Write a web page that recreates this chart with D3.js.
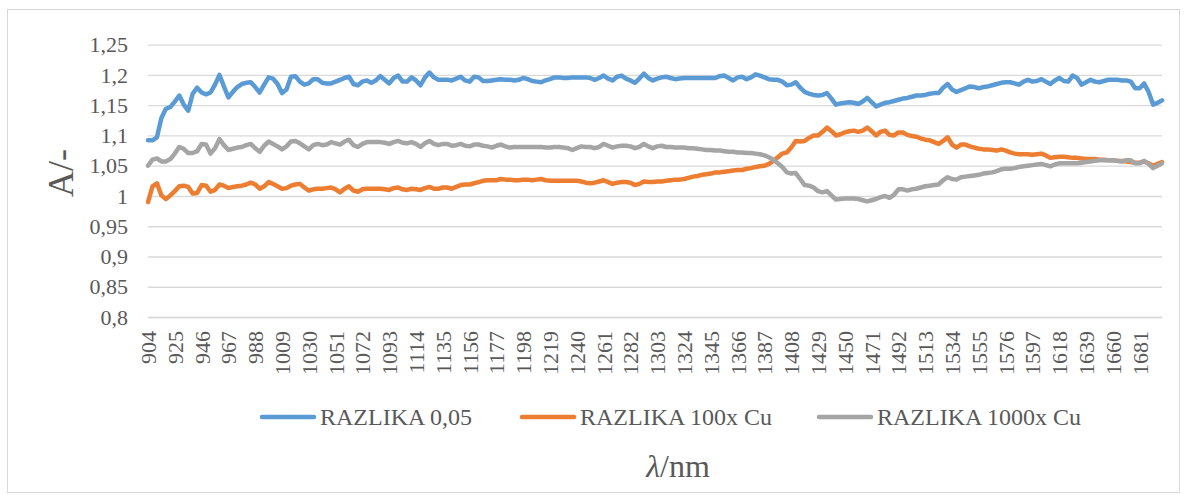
<!DOCTYPE html>
<html>
<head>
<meta charset="utf-8">
<script src="https://cdnjs.cloudflare.com/ajax/libs/d3/7.8.5/d3.min.js"></script>
<style>
html,body{margin:0;padding:0;background:#fff;}
svg{display:block;}
</style>
</head>
<body>
<svg id="chart" width="1187" height="495"></svg>
<script>
// ---- data ----
const wavelengths = d3.range(228).map(i => 904 + 3.5 * i); // nm, 3.5 nm step
const tickLabels = [904,925,946,967,988,1009,1030,1051,1072,1093,1114,1135,1156,1177,1198,1219,1240,1261,1282,1303,1324,1345,1366,1387,1408,1429,1450,1471,1492,1513,1534,1555,1576,1597,1618,1639,1660,1681];
const yTicks = [0.8,0.85,0.9,0.95,1,1.05,1.1,1.15,1.2,1.25];
const yTickLabels = ["0,8","0,85","0,9","0,95","1","1,05","1,1","1,15","1,2","1,25"];
const seriesNames = ["RAZLIKA 0,05","RAZLIKA 100x Cu","RAZLIKA 1000x Cu"];
const seriesColors = ["#5B9BD5","#ED7D31","#A5A5A5"];

const razlika005 = [
1.092,1.092,1.097,1.129,1.144,1.147,1.156,1.166,1.151,1.141,
1.169,1.179,1.171,1.168,1.171,1.184,1.2,1.181,1.163,1.172,
1.18,1.185,1.187,1.188,1.18,1.171,1.184,1.196,1.194,1.185,
1.17,1.176,1.197,1.198,1.189,1.184,1.186,1.193,1.193,1.187,
1.186,1.186,1.189,1.192,1.195,1.197,1.185,1.183,1.189,1.191,
1.187,1.191,1.198,1.192,1.186,1.195,1.199,1.189,1.189,1.196,
1.191,1.183,1.196,1.204,1.196,1.192,1.192,1.192,1.191,1.194,
1.197,1.191,1.189,1.197,1.196,1.19,1.19,1.191,1.192,1.193,
1.192,1.192,1.191,1.192,1.195,1.193,1.19,1.189,1.188,1.191,
1.193,1.196,1.196,1.195,1.195,1.196,1.196,1.196,1.196,1.195,
1.192,1.195,1.199,1.194,1.191,1.197,1.199,1.194,1.191,1.187,
1.194,1.202,1.195,1.191,1.194,1.196,1.197,1.195,1.193,1.194,
1.195,1.195,1.195,1.195,1.195,1.195,1.195,1.195,1.198,1.199,
1.195,1.191,1.196,1.197,1.193,1.196,1.201,1.199,1.196,1.193,
1.192,1.192,1.189,1.183,1.184,1.188,1.179,1.172,1.169,1.167,
1.166,1.167,1.17,1.161,1.151,1.153,1.154,1.155,1.154,1.152,
1.156,1.162,1.155,1.148,1.151,1.154,1.155,1.157,1.159,1.161,
1.162,1.164,1.166,1.166,1.167,1.169,1.17,1.17,1.179,1.185,
1.176,1.172,1.175,1.178,1.181,1.18,1.178,1.18,1.181,1.183,
1.185,1.187,1.188,1.188,1.186,1.184,1.189,1.192,1.189,1.19,
1.193,1.189,1.185,1.191,1.195,1.19,1.189,1.199,1.195,1.184,
1.188,1.192,1.189,1.188,1.19,1.192,1.192,1.192,1.191,1.191,
1.189,1.178,1.178,1.186,1.172,1.151,1.154,1.158];

const razlika100xCu = [
0.99,1.016,1.021,1.001,0.995,1.001,1.008,1.016,1.017,1.015,
1.004,1.005,1.018,1.017,1.007,1.01,1.019,1.017,1.013,1.015,
1.016,1.017,1.019,1.022,1.019,1.012,1.016,1.023,1.02,1.016,
1.012,1.013,1.017,1.019,1.02,1.014,1.009,1.011,1.012,1.012,
1.013,1.014,1.011,1.006,1.012,1.016,1.009,1.007,1.011,1.012,
1.012,1.012,1.012,1.011,1.01,1.013,1.014,1.011,1.01,1.012,
1.011,1.01,1.013,1.015,1.012,1.012,1.014,1.014,1.012,1.015,
1.018,1.019,1.019,1.021,1.023,1.025,1.026,1.026,1.026,1.028,
1.027,1.027,1.026,1.026,1.027,1.027,1.026,1.027,1.028,1.026,
1.025,1.025,1.025,1.025,1.025,1.025,1.025,1.024,1.022,1.021,
1.022,1.024,1.026,1.023,1.02,1.022,1.023,1.023,1.022,1.018,
1.02,1.024,1.023,1.023,1.024,1.024,1.025,1.026,1.027,1.027,
1.028,1.03,1.032,1.033,1.035,1.036,1.037,1.039,1.039,1.04,
1.041,1.042,1.043,1.043,1.045,1.046,1.048,1.049,1.05,1.053,
1.058,1.064,1.07,1.072,1.08,1.091,1.09,1.091,1.096,1.1,
1.1,1.106,1.113,1.107,1.1,1.102,1.105,1.107,1.108,1.106,
1.108,1.113,1.107,1.1,1.106,1.108,1.101,1.1,1.105,1.105,
1.101,1.099,1.098,1.095,1.093,1.092,1.089,1.086,1.091,1.097,
1.085,1.08,1.085,1.085,1.082,1.08,1.078,1.077,1.077,1.076,
1.075,1.077,1.075,1.072,1.07,1.069,1.069,1.069,1.068,1.069,
1.07,1.067,1.063,1.064,1.065,1.065,1.064,1.063,1.063,1.062,
1.061,1.061,1.061,1.06,1.06,1.059,1.059,1.058,1.058,1.057,
1.056,1.055,1.055,1.057,1.054,1.05,1.053,1.056];

const razlika1000xCu = [
1.05,1.06,1.062,1.057,1.057,1.061,1.07,1.081,1.078,1.071,
1.071,1.074,1.086,1.085,1.07,1.079,1.094,1.084,1.076,1.078,
1.08,1.081,1.084,1.086,1.079,1.073,1.083,1.09,1.086,1.082,
1.077,1.082,1.09,1.091,1.087,1.082,1.077,1.084,1.086,1.084,
1.085,1.089,1.087,1.085,1.09,1.093,1.084,1.081,1.086,1.089,
1.089,1.089,1.089,1.088,1.086,1.089,1.091,1.088,1.087,1.089,
1.086,1.081,1.087,1.091,1.086,1.084,1.086,1.086,1.083,1.084,
1.086,1.083,1.082,1.085,1.085,1.083,1.082,1.08,1.083,1.085,
1.082,1.08,1.081,1.081,1.081,1.081,1.081,1.081,1.081,1.08,
1.08,1.081,1.081,1.08,1.079,1.076,1.079,1.082,1.081,1.081,
1.079,1.081,1.086,1.083,1.08,1.082,1.083,1.083,1.082,1.079,
1.081,1.086,1.082,1.079,1.082,1.083,1.081,1.081,1.08,1.08,
1.08,1.079,1.079,1.078,1.077,1.076,1.076,1.075,1.075,1.074,
1.073,1.073,1.072,1.072,1.071,1.071,1.07,1.069,1.067,1.064,
1.06,1.054,1.048,1.039,1.037,1.038,1.028,1.018,1.017,1.014,
1.008,1.006,1.008,1.001,0.994,0.995,0.996,0.996,0.996,0.995,
0.993,0.991,0.993,0.995,0.998,1.0,0.997,1.002,1.011,1.011,
1.009,1.011,1.012,1.014,1.016,1.017,1.018,1.019,1.026,1.031,
1.028,1.027,1.031,1.032,1.033,1.034,1.035,1.037,1.038,1.039,
1.041,1.044,1.045,1.045,1.046,1.048,1.049,1.05,1.051,1.052,
1.053,1.051,1.049,1.052,1.054,1.054,1.054,1.054,1.054,1.055,
1.056,1.057,1.058,1.059,1.059,1.059,1.059,1.058,1.057,1.059,
1.059,1.054,1.054,1.058,1.053,1.046,1.05,1.054];

const seriesValues = [razlika005, razlika100xCu, razlika1000xCu];

// ---- layout ----
const FONT = '"Liberation Serif"';
const TXT = "#595959";
const svg = d3.select("#chart");
const plot = {left:148, right:1162, top:44.7, bottom:317};

svg.append("rect").attr("x",7.5).attr("y",9.5).attr("width",1172).attr("height",483)
  .attr("fill","#fff").attr("stroke","#d9d9d9").attr("stroke-width",1);

const x = d3.scalePoint().domain(wavelengths).range([plot.left, plot.right]);
const y = d3.scaleLinear().domain([0.8,1.25]).range([plot.bottom, plot.top]);

// grid + y labels
const yAxis = d3.axisLeft(y).tickValues(yTicks)
  .tickFormat((d,i) => yTickLabels[i]).tickSize(-(plot.right-plot.left)).tickPadding(20);
const gy = svg.append("g").attr("transform",`translate(${plot.left},0)`).call(yAxis);
gy.attr("font-family", null).attr("font-size", null);
gy.select(".domain").remove();
gy.selectAll(".tick line").attr("stroke","#d9d9d9").attr("stroke-width",1.3);
gy.selectAll(".tick text").style("font-family",FONT).style("font-size","22px").attr("fill",TXT);

// x axis
const tickSet = new Set(tickLabels);
const xAxis = d3.axisBottom(x).tickValues(wavelengths.filter(w => tickSet.has(w)))
  .tickFormat(d => String(d)).tickSize(0);
const gx = svg.append("g").attr("transform",`translate(0,${plot.bottom})`).call(xAxis);
gx.attr("font-family", null).attr("font-size", null);
gx.select(".domain").attr("stroke","#d9d9d9").attr("stroke-width",1.3);
gx.selectAll(".tick text")
  .style("font-family",FONT).style("font-size","22px").attr("fill",TXT)
  .attr("text-anchor","end")
  .attr("transform","translate(0,14) rotate(-90)")
  .attr("x",0).attr("y",0).attr("dy","0.34em");

// lines
const line = d3.line().x((d,i) => x(wavelengths[i])).y(d => y(d));
seriesValues.forEach((vals, k) => {
  svg.append("path").datum(vals)
    .attr("d", line)
    .attr("fill","none")
    .attr("stroke", seriesColors[k])
    .attr("stroke-width",4.5)
    .attr("stroke-linejoin","round")
    .attr("stroke-linecap","round");
});

// axis titles
svg.append("text").attr("transform","translate(73,173) rotate(-90)")
  .style("font-family",FONT).style("font-size","36px").attr("fill",TXT)
  .attr("text-anchor","middle").text("A/-");
const xt = svg.append("text").attr("x",678).attr("y",477).attr("text-anchor","middle")
  .style("font-family",FONT).style("font-size","32px").attr("fill",TXT);
xt.append("tspan").style("font-style","italic").text("λ");
xt.append("tspan").text("/nm");

// legend
const legendX = [262, 522, 819];
const legendY = 417;
seriesNames.forEach((name, k) => {
  svg.append("line").attr("x1",legendX[k]).attr("x2",legendX[k]+52)
    .attr("y1",legendY).attr("y2",legendY)
    .attr("stroke",seriesColors[k]).attr("stroke-width",4.5).attr("stroke-linecap","round");
  svg.append("text").attr("x",legendX[k]+58).attr("y",legendY).attr("dy","0.35em")
    .style("font-family",FONT).style("font-size","24px").attr("fill",TXT).text(name);
});
</script>
</body>
</html>
